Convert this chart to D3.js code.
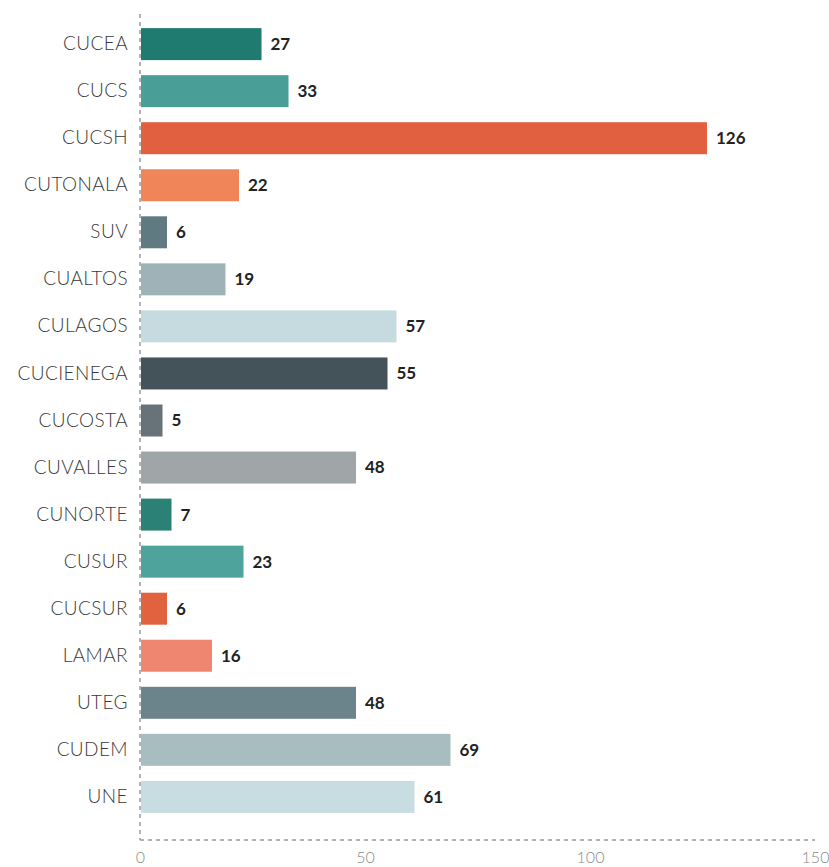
<!DOCTYPE html>
<html>
<head>
<meta charset="utf-8">
<script src="https://cdn.jsdelivr.net/npm/d3@7"></script>
<style>
  body { margin: 0; background: #fff; }
  svg { display: block; }
</style>
</head>
<body>
<svg id="chart" width="829" height="867"></svg>
<script>
// data
var centros = ["CUCEA", "CUCS", "CUCSH", "CUTONALA", "SUV", "CUALTOS", "CULAGOS",
  "CUCIENEGA", "CUCOSTA", "CUVALLES", "CUNORTE", "CUSUR", "CUCSUR", "LAMAR",
  "UTEG", "CUDEM", "UNE"];
var valores = [27, 33, 126, 22, 6, 19, 57, 55, 5, 48, 7, 23, 6, 16, 48, 69, 61];
var colores = ["#1f7a70", "#4a9e98", "#e0603f", "#ef8558", "#5f7a80", "#9db3b8",
  "#c5dbe0", "#44535a", "#687379", "#a0a5a8", "#2b8176", "#4ea49c", "#e0623f",
  "#ef8670", "#6b848b", "#a7bdc0", "#c7dde1"];
var ticks = [0, 50, 100, 150];

var margin = { top: 14, right: 14, bottom: 27, left: 140 },
  width = 829 - margin.left - margin.right,
  height = 867 - margin.top - margin.bottom;

var svg = d3.select("#chart")
  .append("g")
  .attr("transform", "translate(" + margin.left + "," + margin.top + ")");

var data = centros.map(function (c, i) {
  return { name: c, value: valores[i], color: colores[i] };
});

var xScale = d3.scaleLinear().domain([0, 150]).range([0, 675]);
var yScale = d3.scaleBand()
  .domain(centros)
  .range([0, 813])
  .paddingInner(0.32)
  .paddingOuter(0.3);

// axes lines (dashed)
svg.append("line")
  .attr("x1", 0).attr("x2", 0)
  .attr("y1", 0).attr("y2", height)
  .attr("stroke", "#9a9a9a")
  .attr("stroke-width", 1.5)
  .attr("stroke-dasharray", "4,4");
svg.append("line")
  .attr("x1", 0).attr("x2", width)
  .attr("y1", height).attr("y2", height)
  .attr("stroke", "#9a9a9a")
  .attr("stroke-width", 1.5)
  .attr("stroke-dasharray", "4,4");

// x axis tick labels
var xAxis = d3.axisBottom(xScale).tickValues(ticks).tickSize(0).tickPadding(12);
var gx = svg.append("g")
  .attr("transform", "translate(0," + height + ")")
  .call(xAxis);
gx.select(".domain").remove();
gx.selectAll("text")
  .attr("fill", "#8a8a8a")
  .style("font-family", "Lato")
  .style("font-weight", 300)
  .style("font-size", "16px");

// y axis category labels
var yAxis = d3.axisLeft(yScale).tickSize(0).tickPadding(12);
var gy = svg.append("g").call(yAxis);
gy.select(".domain").remove();
gy.selectAll("text")
  .attr("fill", "#3a3a3a")
  .style("font-family", "Lato")
  .style("font-weight", 300)
  .style("font-size", "19px")
  .style("letter-spacing", "0.4px");

// bars
svg.append("g")
  .selectAll("rect")
  .data(data)
  .join("rect")
  .attr("x", xScale(0) + 1)
  .attr("y", function (d) { return yScale(d.name); })
  .attr("width", function (d) { return xScale(d.value) - xScale(0) - 1; })
  .attr("height", yScale.bandwidth())
  .attr("fill", function (d) { return d.color; });

// value labels
svg.append("g")
  .selectAll("text")
  .data(data)
  .join("text")
  .attr("x", function (d) { return xScale(d.value) + 9; })
  .attr("y", function (d) { return yScale(d.name) + yScale.bandwidth() / 2; })
  .attr("dy", "0.35em")
  .attr("fill", "#222")
  .style("font-family", "Lato")
  .style("font-weight", 700)
  .style("font-size", "17px")
  .text(function (d) { return d.value; });
</script>
</body>
</html>
